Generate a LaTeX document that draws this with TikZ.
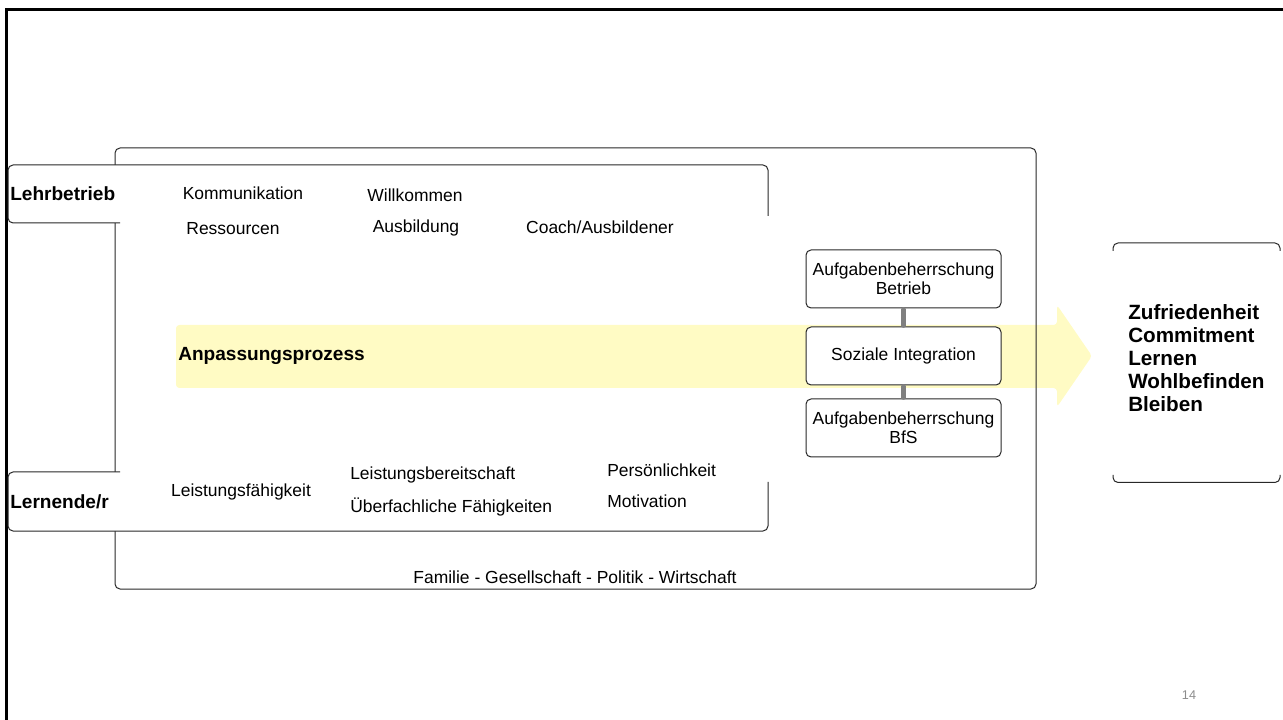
\documentclass[tikz,border=0pt]{standalone}
\usepackage{fontspec}
\setmainfont{Liberation Sans}
\definecolor{arrowyellow}{RGB}{255,251,196}
\definecolor{conngray}{RGB}{128,128,128}
\definecolor{pagegray}{RGB}{140,140,140}
\definecolor{linegray}{RGB}{40,40,40}
\begin{document}
\begin{tikzpicture}[x=0.75pt,y=-0.75pt,
  txt/.style={inner sep=0pt,font=\fontsize{13.1}{15.6}\selectfont},
  btxt/.style={inner sep=0pt,font=\bfseries\fontsize{14.3}{16}\selectfont},
  smallbox/.style={draw=linegray,fill=white,rounded corners=3.75pt,line width=0.75pt,minimum width=146.25pt,minimum height=43.5pt,align=center,inner sep=0pt,font=\fontsize{13.1}{14.6}\selectfont},
  frame/.style={draw=linegray,line width=0.75pt,rounded corners=3.75pt},
  conn/.style={draw=conngray,line width=4pt,line cap=round}]
\useasboundingbox (0,0) rectangle (1283,720);
% page border
\draw[line width=2pt] (6.5,720) -- (6.5,9.5) -- (1283,9.5);
% arrow
\fill[arrowyellow,rounded corners=2.5pt] (176,325) -- (1057,325) -- (1057,305) -- (1092,356) -- (1057,407) -- (1057,388) -- (176,388) -- cycle;
% outer frame
\draw[frame] (115,148) rectangle (1036,589);
% Lehrbetrieb box
\fill[white,rounded corners=3.75pt] (8,165) rectangle (768,223);
\draw[frame] (120,223) -- (8,223) -- (8,165) -- (768,165) -- (768,216);
% Lernende box
\fill[white,rounded corners=3.75pt] (8,472) rectangle (768,531);
\draw[frame] (120,472) -- (8,472) -- (8,531) -- (768,531) -- (768,482);
% result box
\draw[frame] (1113,251) -- (1113,243) -- (1280,243) -- (1280,251);
\draw[frame] (1113,475) -- (1113,482.5) -- (1280,482.5) -- (1280,475);
% texts
\node[btxt,anchor=west] (lehr) at (10,194) {Lehrbetrieb};
\node[txt] (komm) at (243,193) {Kommunikation};
\node[txt] (willk) at (415,195) {Willkommen};
\node[txt] (ress) at (233,229) {Ressourcen};
\node[txt] (ausb) at (416,228) {Ausbildung};
\node[txt] (coach) at (600,227) {Coach/Ausbildener};
\node[btxt,anchor=west] (anp) at (178,356) {Anpassungsprozess};
\node[btxt,anchor=west] (lern) at (10,502) {Lernende/r};
\node[txt] (lfaeh) at (241,492) {Leistungsfähigkeit};
\node[txt,anchor=west] (lber) at (350,475) {Leistungsbereitschaft};
\node[txt,anchor=west] (ueber) at (350,507) {Überfachliche Fähigkeiten};
\node[txt,anchor=west] (pers) at (607,470) {Persönlichkeit};
\node[txt,anchor=west] (mot) at (607,501) {Motivation};
\node[txt] (umwelt) at (575,577) {Familie - Gesellschaft - Politik - Wirtschaft};
% small boxes
\node[smallbox] (b1) at (903.5,279) {Aufgabenbeherrschung\\Betrieb};
\node[smallbox] (b2) at (903.5,356) {Soziale Integration};
\node[smallbox] (b3) at (903.5,428) {Aufgabenbeherrschung\\BfS};
\draw[conn] ([yshift=-1pt]b1.south) -- ([yshift=1pt]b2.north);
\draw[conn] ([yshift=-1pt]b2.south) -- ([yshift=1pt]b3.north);
% results
\node[anchor=west,align=left,inner sep=0pt,font=\bfseries\fontsize{15.5}{17.25}\selectfont] (res) at (1128,358) {Zufriedenheit\\Commitment\\Lernen\\Wohlbefinden\\Bleiben};
% page number
\node[inner sep=0pt,text=pagegray,font=\fontsize{9.5}{10}\selectfont] (pnum) at (1189,695) {14};
\end{tikzpicture}
\end{document}
